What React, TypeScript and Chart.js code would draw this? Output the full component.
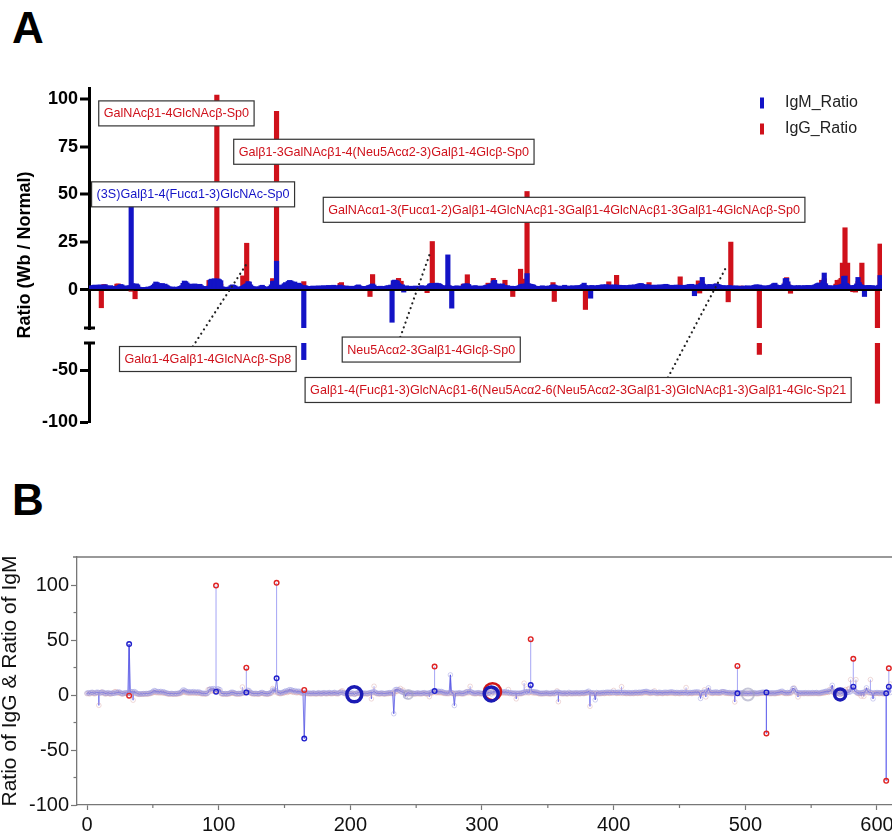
import React, { useEffect, useRef } from 'react';
import { Chart, registerables } from 'chart.js';

Chart.register(...registerables);

const FONT = "'Liberation Sans', Arial, Helvetica, sans-serif";
const RED = '#cf111b';
const BLUE = '#1313c6';

// ---------- DATA (glycan index 0..610) ----------
const igmRatio: number[] = [
  1.8, 2.1, 1.6, 2.3, 2.5, 2.0, 1.7, 2.4, 2.6, 2.2,
  1.9, 2.3, 2.7, 2.0, 1.5, 1.8, 2.2, 1.6, 1.4, 1.9,
  1.7, 1.5, 2.0, 2.4, 2.8, 2.5, 1.6, 1.3, 1.8, 2.1,
  1.9, 2.2, 46.0, 3.2, 3.0, 2.9, 3.1, 2.6, 1.4, 1.1,
  0.9, 1.2, 1.0, 1.3, 1.1, 1.5, 1.2, 1.6, 1.9, 2.4,
  3.1, 4.1, 3.8, 3.0, 3.2, 2.9, 3.3, 2.7, 3.0, 2.5,
  2.1, 1.6, 1.4, 1.2, 1.5, 1.3, 1.1, 1.4, 1.2, 1.6,
  1.8, 2.2, 3.4, 4.6, 4.3, 3.6, 2.8, 3.0, 2.6, 2.9,
  2.7, 3.1, 2.5, 2.8, 2.4, 2.9, 2.2, 1.8, 1.5, 1.7,
  1.4, 1.6, 2.0, 5.2, 5.6, 5.5, 5.8, 5.4, 5.6, 5.7,
  5.3, 4.8, 1.6, 1.3, 1.2, 1.4, 1.1, 1.3, 1.5, 2.2,
  2.6, 2.4, 2.0, 1.4, 1.2, 1.5, 1.3, 1.6, 1.9, 2.4,
  2.8, 3.2, 4.3, 4.1, 2.6, 1.9, 1.5, 1.3, 1.6, 1.4,
  1.2, 1.5, 2.1, 2.4, 1.8, 1.4, 1.3, 1.1, 1.5, 1.8,
  2.6, 4.4, 4.6, 4.2, 15.0, 2.5, 2.1, 1.8, 2.2, 2.6,
  3.2, 3.8, 3.4, 4.4, 4.9, 4.7, 4.2, 3.6, 4.1, 3.0,
  3.4, 3.5, 3.1, 2.4, 2.0, -40.0, 2.2, 1.9, 1.6, 1.8,
  1.5, 1.7, 2.0, 1.6, 1.4, 1.8, 2.1, 1.7, 1.5, 1.9,
  2.2, 1.8, 1.6, 2.0, 2.3, 1.9, 1.7, 2.1, 2.4, 2.0,
  1.6, 1.8, 2.2, 2.5, 2.1, 1.7, 1.5, 1.9, 2.0, 1.6,
  1.4, 1.7, 1.9, 0.6, 1.5, 1.8, 2.3, 2.6, 2.1, 1.7,
  1.5, 1.8, 1.6, 1.4, 1.9, 2.2, 2.4, 2.7, 3.1, 2.5,
  1.8, 1.6, 1.4, 1.7, 1.9, 1.5, 1.3, 1.6, 1.8, 2.0,
  2.2, 1.9, 2.5, -17.0, 4.8, 5.1, 4.9, 4.6, 3.5, 2.8,
  2.4, 2.6, -1.2, 1.8, 2.1, 1.7, 1.5, 1.9, 1.6, 1.4,
  1.7, 2.0, 1.8, 1.5, 1.6, 1.9, 2.2, 1.8, 1.5, 1.7,
  2.0, 2.2, 3.0, 3.3, 3.4, 3.1, 3.2, 3.5, 3.0, 3.3,
  2.9, 2.3, 1.9, 2.1, 1.8, 2.0, 18.3, 2.2, 1.9, -9.6,
  1.8, 1.6, 1.9, 2.1, 1.7, 1.5, 1.8, 2.0, 2.6, 3.1,
  3.0, 3.2, 2.8, 2.1, 1.8, 1.6, 1.9, 2.2, 2.0, 1.7,
  1.5, 1.8, 2.0, 1.7, 1.9, 2.2, 2.5, 1.0, 2.9, 3.0,
  3.2, 4.6, 5.0, 3.1, 2.9, 3.0, 2.7, 2.8, 3.1, 2.3,
  2.1, 1.9, 2.2, 1.8, 1.6, 1.9, 1.7, 1.5, 1.8, 1.6,
  1.9, 2.2, 2.6, 2.9, 3.0, 2.8, 3.1, 8.5, 3.2, 3.0,
  2.9, 2.7, 2.5, 2.0, 1.7, 1.5, 1.8, 1.6, 1.9, 2.1,
  1.8, 1.6, 1.5, 1.9, 2.0, 1.7, 2.3, 2.6, 2.5, 2.2,
  1.9, 1.6, 1.8, 2.0, 1.7, 1.5, 2.4, 1.9, 1.7, 1.8,
  2.0, 1.8, 2.1, 1.9, 1.7, 2.0, 2.2, 1.9, 2.1, 2.4,
  2.8, 3.5, 2.2, 2.0, 1.9, 2.1, -4.4, 2.3, 2.0, 1.8,
  1.9, 2.1, 2.3, 2.0, 2.4, 2.6, 2.5, 2.2, 2.7, 2.4,
  2.3, 2.5, 2.2, 2.4, 2.6, 2.3, 2.5, 2.1, 2.4, 2.2,
  2.0, 2.3, 2.1, 1.9, 2.2, 2.0, 2.3, 2.5, 2.1, 2.4,
  2.6, 2.3, 2.8, 3.0, 3.2, 3.3, 2.9, 2.4, 2.2, 2.5,
  2.7, 2.4, 2.2, 2.0, 2.3, 2.5, 2.2, 2.0, 2.3, 2.6,
  2.4, 2.2, 2.5, 2.7, 2.9, 2.6, 2.3, 2.1, 2.4, 2.2,
  2.0, 2.3, 2.5, 2.2, 2.4, 2.1, 1.9, 2.2, 2.4, 2.1,
  2.3, 2.5, 2.8, 2.6, 2.9, 2.4, -3.1, 2.2, 2.5, 2.7,
  2.3, 3.4, 6.5, 3.0, 2.4, 2.2, 2.5, 2.6, 2.8, 2.4,
  2.2, 2.5, 3.0, 3.1, 2.9, 2.6, 2.3, 2.1, 2.2, 2.0,
  1.8, 2.1, 2.0, 2.2, 1.9, 2.0, 1.7, 1.9, 2.1, 1.8,
  1.6, 1.9, 1.1, 1.8, 2.0, 1.7, 1.9, 2.1, 1.8, 1.6,
  1.9, 2.1, 2.3, 2.5, 2.6, 2.4, 2.5, 2.2, 2.0, 1.8,
  1.9, 2.1, 1.8, 2.0, 2.2, 2.4, 2.7, 3.2, 3.5, 2.6,
  2.2, 2.0, 2.3, 2.1, 2.4, 3.1, 5.9, 6.0, 4.2, 2.5,
  2.2, 2.0, 1.8, 2.1, 1.9, 2.0, 2.2, 1.8, 2.1, 1.9,
  2.0, 2.2, 1.9, 2.1, 2.3, 2.0, 1.8, 2.1, 2.4, 2.6,
  3.0, 3.3, 3.6, 3.4, 3.1, 4.8, 8.8, 3.2, 2.1, 1.9,
  2.2, 2.0, 0.6, 1.8, 2.1, 2.3, 2.0, 2.2, 2.5, 2.6,
  3.0, 7.0, 7.2, 3.4, 2.8, 2.2, 2.0, 1.9, 2.1, 2.3,
  2.4, 3.1, 6.5, 3.8, 2.7, 2.4, 2.2, -3.5, 2.1, 2.0,
  2.3, 2.1, 1.9, 2.2, 2.0, 1.8, 1.7, 1.9, 2.4, 7.5, 2.2,
];

const iggRatio: number[] = [
  1.2, 1.5, 1.0, 1.8, 2.2, 1.4, 1.1, 1.9, 2.0, -9.4,
  1.6, 2.8, 2.2, 1.3, 1.0, 1.2, 1.5, 1.1, 0.9, 1.3,
  1.6, 3.0, 3.1, 1.9, 2.0, 1.7, 1.1, 0.8, 1.2, 1.5,
  1.3, 1.4, -0.6, 1.8, 2.0, -4.7, 1.9, 1.5, 0.9, 0.7,
  0.6, 0.8, 0.7, 0.9, 0.8, 1.0, 0.9, 1.1, 1.3, 1.6,
  2.0, 2.6, 2.4, 2.1, 2.2, 1.9, 2.3, 1.8, 2.0, 1.6,
  1.4, 1.0, 0.9, 0.8, 1.0, 0.9, 0.7, 1.0, 0.8, 1.1,
  1.2, 1.5, 2.2, 3.0, 2.8, 2.3, 1.9, 2.0, 1.7, 1.9,
  1.8, 2.1, 1.6, 1.9, 1.5, 1.9, 1.4, 1.2, 1.0, 1.1,
  0.9, 1.1, 4.9, 5.0, 3.6, 3.8, 4.0, 3.5, 102.0, 3.9,
  3.4, 3.0, 1.1, 0.9, 0.8, 1.0, 0.7, 0.9, 1.0, 1.5,
  1.7, 1.6, 1.3, 1.0, 0.8, 1.0, 0.9, 1.1, 7.3, 1.6,
  1.9, 24.4, 2.8, 2.7, 1.7, 1.3, 1.0, 0.9, 1.1, 1.0,
  0.8, 1.0, 1.4, 1.6, 1.2, 1.0, 0.9, 0.7, 1.0, 1.2,
  1.7, 5.9, 3.0, 2.8, 93.5, 1.6, 1.4, 1.2, 1.5, 1.7,
  2.1, 2.5, 2.2, 2.9, 3.2, 3.1, 2.8, 2.4, 2.7, 2.0,
  2.2, 2.3, 2.0, 1.6, 1.3, 4.3, 1.5, 1.3, 1.1, 1.2,
  1.0, 1.1, 1.3, 1.1, 0.9, 1.2, 1.4, 1.1, 1.0, 1.3,
  1.5, 1.2, 1.1, 1.3, 1.5, 1.3, 1.1, 1.4, 1.6, 1.3,
  1.1, 1.2, 2.0, 3.4, 3.8, 2.2, 1.0, 1.3, 1.3, 1.1,
  0.9, 1.1, 1.3, 1.0, 1.0, 1.2, 1.5, 1.7, 1.4, 1.1,
  1.0, 1.2, 1.1, 0.9, 1.3, 1.5, -3.5, 1.8, 8.0, 1.7,
  1.2, 1.1, 0.9, 1.1, 1.3, 1.0, 0.9, 1.1, 1.2, 1.3,
  1.5, 1.3, 1.7, 1.2, 3.2, 3.4, 3.3, 4.2, 6.0, 3.5,
  4.5, 1.7, 1.0, 1.2, 1.4, 1.1, 1.0, 1.3, 1.1, 0.9,
  1.1, 1.3, 1.2, 1.0, 1.1, 1.3, 1.5, 1.2, 1.0, 1.1,
  -1.5, 1.5, 2.0, 2.2, 25.3, 2.1, 2.1, 2.3, 2.0, 2.2,
  1.9, 1.5, 1.3, 1.4, 1.2, 1.3, 2.5, 1.5, 1.3, 1.0,
  1.2, 1.1, 1.3, 1.4, 1.1, 1.0, 1.2, 1.3, 3.0, 2.1,
  2.0, 7.9, 1.9, 1.4, 1.2, 1.1, 1.3, 1.5, 1.3, 1.1,
  1.0, 1.2, 1.3, 1.1, 1.3, 1.5, 1.7, 3.5, 3.0, 2.0,
  2.1, 6.0, 3.3, 2.1, 1.9, 2.0, 1.8, 1.9, 2.0, 1.5,
  5.0, 1.3, 1.5, 1.2, 1.1, 1.3, -3.5, 1.0, 1.2, 1.1,
  1.3, 1.5, 10.8, 2.0, 5.6, 1.9, 2.1, 51.5, 2.1, 2.0,
  1.9, 1.8, 1.7, 1.3, 1.1, 1.0, 1.2, 1.1, 1.3, 1.4,
  1.2, 1.1, 1.0, 1.3, 1.3, 1.1, 1.5, 3.8, -6.1, 1.5,
  1.3, 1.1, 1.2, 1.3, 1.1, 1.0, 1.6, 1.3, 1.1, 1.2,
  1.3, 1.2, 1.4, 1.3, 1.1, 1.3, 1.5, 1.3, 1.4, 1.6,
  1.9, 2.3, -10.3, 1.3, 1.3, 1.4, 1.2, 1.5, 1.3, 1.2,
  1.3, 1.4, 1.5, 1.3, 1.6, 1.7, 1.7, 1.5, 1.8, 1.6,
  4.2, 1.7, 1.5, 1.6, 1.7, 1.5, 7.6, 1.4, 1.6, 1.5,
  1.3, 1.5, 1.4, 1.3, 1.5, 1.3, 1.5, 1.7, 1.4, 1.6,
  1.7, 1.5, 1.9, 2.0, 2.1, 2.2, 1.9, 1.6, 1.5, 1.7,
  1.8, 3.8, 1.5, 1.3, 1.5, 1.7, 1.5, 1.3, 1.5, 1.7,
  1.6, 1.5, 1.7, 1.8, 1.9, 1.7, 1.5, 1.4, 1.6, 1.5,
  1.3, 1.5, 1.7, 1.5, 1.6, 6.8, 1.3, 1.5, 1.6, 1.4,
  1.5, 1.7, 1.9, 1.7, 1.9, 1.6, 1.5, 1.5, 1.7, 4.7,
  -1.7, 2.3, 4.3, 2.0, 1.6, 1.5, 1.7, 1.7, 1.9, 1.6,
  1.5, 1.7, 2.0, 3.0, 1.9, 1.7, 1.5, 1.4, 1.5, 1.3,
  1.2, 1.4, -6.3, 1.5, 25.0, 1.3, 1.1, 1.3, 1.4, 1.2,
  1.1, 1.3, 2.0, 1.2, 1.3, 1.1, 1.3, 1.4, 1.2, 1.1,
  1.3, 1.4, 1.5, 1.7, 1.7, 1.6, -35.0, 1.5, 1.3, 1.2,
  1.3, 1.4, 1.2, 1.3, 1.5, 1.6, 1.8, 2.1, 2.3, 1.7,
  1.5, 1.3, 1.5, 1.4, 1.6, 2.0, 4.0, 6.4, 3.0, 1.7,
  -1.8, 1.3, 1.2, 1.4, 1.3, 1.3, 1.5, 1.2, 1.4, 1.3,
  1.3, 1.5, 1.3, 1.4, 1.5, 1.3, 1.2, 1.4, 1.6, 1.7,
  2.0, 2.2, 2.4, 2.3, 5.0, 3.2, 5.8, 2.1, 1.4, 1.3,
  1.5, 1.3, 1.0, 1.2, 1.4, 3.0, 5.0, 3.1, 5.2, 6.0,
  14.0, 4.8, 32.5, 4.6, 14.0, 1.5, 1.3, 1.3, -1.0, 1.5,
  -1.2, 2.1, 4.3, 2.5, 1.8, 14.0, 1.5, 1.5, 1.4, 1.3,
  1.5, 1.4, 1.3, 1.5, 1.3, 1.2, 1.1, -82.0, 1.6, 24.0, 10.0,
];

// Panel A axis ticks and ranges
const upperTicks = [0, 25, 50, 75, 100];
const lowerTicks = [-50, -100];
const upperRange = [-20, 105.7];
const lowerRange = [-100, -24];

// Panel B: highlighted glycans
const bHighlightIdx = [32, 98, 121, 144, 165, 264, 337, 494, 516, 582, 607, 609];
const bHighlightIgG = [-0.6, 99.5, 24.9, 102, 4.6, 25.9, 50.8, 26.5, -35, 33, -78, 24.3];
const bHighlightIgM = [46.3, 3, 2.4, 15.2, -39.6, 3.6, 9.1, 1.5, 2.4, 7.6, 1.5, 7.6];
// Panel B: ring markers (index, value, radius)
const bRingBlueIdx = [203, 307, 572];
const bRingBlueVal = [0.6, 1.0, 0.5];
const bRingBlueR = [7.5, 7, 5.5];
const bRingRedIdx = [308];
const bRingRedVal = [3.0];
const bRingRedR = [8.5];
const bRingFaintIdx = [244, 502];
const bRingFaintVal = [0.5, 0.5];
const bRingFaintR = [4.5, 6];
const xTicksB = [0, 100, 200, 300, 400, 500, 600];
const xMinorB = [50, 150, 250, 350, 450, 550];
const yTicksB = [-100, -50, 0, 50, 100];
const yMinorB = [-75, -25, 25, 75];
const xRangeB = [-7.6, 611.4];
const yRangeB = [-100, 125.5];

const glycanIndex: number[] = igmRatio.map((_, i) => i);

type Ann = { text: string; color: string; x: number; y: number; seg: 'yUp' | 'yLow'; leader?: { from: number; toX: number; toY: number } };
const annotationsA: Ann[] = [
  { text: 'GalNAcβ1-4GlcNAcβ-Sp0', color: RED, x: 7, y: 92.4, seg: 'yUp' },
  { text: 'Galβ1-3GalNAcβ1-4(Neu5Acα2-3)Galβ1-4Glcβ-Sp0', color: RED, x: 111, y: 72.3, seg: 'yUp' },
  { text: '(3S)Galβ1-4(Fucα1-3)GlcNAc-Sp0', color: BLUE, x: 1.5, y: 50, seg: 'yUp' },
  { text: 'GalNAcα1-3(Fucα1-2)Galβ1-4GlcNAcβ1-3Galβ1-4GlcNAcβ1-3Galβ1-4GlcNAcβ-Sp0', color: RED, x: 180, y: 41.9, seg: 'yUp' },
  { text: 'Galα1-4Galβ1-4GlcNAcβ-Sp8', color: RED, x: 23, y: -39.4, seg: 'yLow', leader: { from: 79.5, toX: 120.5, toY: 13.1 } },
  { text: 'Neu5Acα2-3Galβ1-4Glcβ-Sp0', color: RED, x: 194.6, y: -30.3, seg: 'yLow', leader: { from: 239.4, toX: 261.8, toY: 18.3 } },
  { text: 'Galβ1-4(Fucβ1-3)GlcNAcβ1-6(Neu5Acα2-6(Neu5Acα2-3Galβ1-3)GlcNAcβ1-3)Galβ1-4Glc-Sp21', color: RED, x: 166, y: -69.2, seg: 'yLow', leader: { from: 445.6, toX: 491, toY: 12.6 } },
];

const panelAPlugin = {
  id: 'panelAExtras',
  afterDatasetsDraw(chart: any) {
    const { ctx, chartArea, scales } = chart;
    const xs = scales.x, yUp = scales.yUp, yLow = scales.yLow;
    ctx.save();
    // axis break caps
    ctx.strokeStyle = '#000';
    ctx.lineWidth = 3;
    const ax = chartArea.left;
    [yUp.bottom, yLow.top].forEach((py: number) => {
      ctx.beginPath();
      ctx.moveTo(ax - 5, py);
      ctx.lineTo(ax + 6, py);
      ctx.stroke();
    });
    // y title
    ctx.save();
    ctx.translate(25, (chartArea.top + chartArea.bottom) / 2);
    ctx.rotate(-Math.PI / 2);
    ctx.font = `bold 18px ${FONT}`;
    ctx.fillStyle = '#000';
    ctx.textAlign = 'center';
    ctx.textBaseline = 'middle';
    ctx.fillText('Ratio (Wb / Normal)', 0, 0);
    ctx.restore();
    // legend
    ctx.font = `16px ${FONT}`;
    ctx.textBaseline = 'middle';
    ctx.textAlign = 'left';
    [0, 1].forEach((di, k) => {
      const ds = chart.data.datasets[di];
      const ly = chartArea.top + 15 + k * 26;
      ctx.fillStyle = ds.backgroundColor;
      ctx.fillRect(chartArea.right - 122, ly - 5.5, 4, 11);
      ctx.fillStyle = '#222';
      ctx.fillText(ds.label, chartArea.right - 97, ly);
    });
    // annotations
    ctx.font = `12.6px ${FONT}`;
    const h = 25;
    annotationsA.forEach((a) => {
      const ys = a.seg === 'yLow' ? yLow : yUp;
      const left = xs.getPixelForValue(a.x);
      const cy = ys.getPixelForValue(a.y);
      const w = ctx.measureText(a.text).width + 10;
      if (a.leader) {
        ctx.save();
        ctx.strokeStyle = '#222';
        ctx.lineWidth = 2.2;
        ctx.lineCap = 'round';
        ctx.setLineDash([0.1, 5]);
        ctx.beginPath();
        ctx.moveTo(xs.getPixelForValue(a.leader.from), cy - h / 2);
        ctx.lineTo(xs.getPixelForValue(a.leader.toX), yUp.getPixelForValue(a.leader.toY));
        ctx.stroke();
        ctx.restore();
      }
      ctx.fillStyle = '#fff';
      ctx.fillRect(left, cy - h / 2, w, h);
      ctx.strokeStyle = '#333';
      ctx.lineWidth = 1.2;
      ctx.strokeRect(left, cy - h / 2, w, h);
      ctx.fillStyle = a.color;
      ctx.textBaseline = 'middle';
      ctx.fillText(a.text, left + 5, cy + 0.5);
    });
    ctx.restore();
  },
};

const panelBPlugin = {
  id: 'panelBExtras',
  afterDraw(chart: any) {
    const { ctx, chartArea, scales } = chart;
    const xs = scales.x, ys = scales.y;
    ctx.save();
    ctx.strokeStyle = '#777';
    ctx.lineWidth = 1.3;
    ctx.beginPath();
    ctx.moveTo(chartArea.left - 4, chartArea.top);
    ctx.lineTo(chartArea.right, chartArea.top);
    ctx.stroke();
    ctx.lineWidth = 1.2;
    xMinorB.forEach((v) => {
      const px = xs.getPixelForValue(v);
      ctx.beginPath();
      ctx.moveTo(px, chartArea.bottom);
      ctx.lineTo(px, chartArea.bottom + 3);
      ctx.stroke();
    });
    yMinorB.forEach((v) => {
      const py = ys.getPixelForValue(v);
      ctx.beginPath();
      ctx.moveTo(chartArea.left - 3.5, py);
      ctx.lineTo(chartArea.left, py);
      ctx.stroke();
    });
    ctx.restore();
  },
};

function PanelA() {
  const ref = useRef<HTMLCanvasElement>(null);
  useEffect(() => {
    const canvas = ref.current as HTMLCanvasElement;
    const upMin = upperRange[0];
    const lowTop = lowerRange[1];
    const barCommon = { grouped: false, barThickness: 4.5, borderWidth: 0 };
    const tickFont = { family: FONT, size: 18, weight: 'bold' as const };
    const chart = new Chart(canvas, {
      type: 'bar',
      data: {
        labels: glycanIndex,
        datasets: [
          { label: 'IgM_Ratio', data: igmRatio.map((v) => Math.max(v, upMin)), backgroundColor: BLUE, yAxisID: 'yUp', order: 0, ...barCommon },
          { label: 'IgG_Ratio', data: iggRatio.map((v) => Math.max(v, upMin)), backgroundColor: RED, yAxisID: 'yUp', order: 1, ...barCommon },
          { label: 'IgM_low', data: igmRatio.map((v) => (v < lowTop ? [lowTop, v] : null)) as any, backgroundColor: BLUE, yAxisID: 'yLow', order: 0, ...barCommon },
          { label: 'IgG_low', data: iggRatio.map((v) => (v < lowTop ? [lowTop, v] : null)) as any, backgroundColor: RED, yAxisID: 'yLow', order: 1, ...barCommon },
        ],
      },
      options: {
        responsive: false,
        animation: false,
        devicePixelRatio: 1,
        events: [],
        layout: { autoPadding: false, padding: { top: 28, bottom: 18, right: 10, left: 0 } },
        plugins: { legend: { display: false }, tooltip: { enabled: false } },
        scales: {
          x: { type: 'category', display: false, offset: true },
          yUp: {
            type: 'linear', position: 'left', stack: 'a', stackWeight: 240, weight: 3,
            min: upperRange[0], max: upperRange[1],
            afterBuildTicks: (s: any) => { s.ticks = upperTicks.map((v) => ({ value: v })); },
            afterFit: (s: any) => { s.width = 89; },
            ticks: { font: tickFont, color: '#000', padding: 2, autoSkip: false },
            grid: {
              color: (c: any) => (c.tick && c.tick.value === 0 ? '#000' : 'rgba(0,0,0,0)'),
              lineWidth: (c: any) => (c.tick && c.tick.value === 0 ? 3 : 0),
              tickColor: '#000', tickWidth: 3, tickLength: 9,
            },
            border: { color: '#000', width: 3 },
          },
          yGap: {
            type: 'linear', position: 'left', stack: 'a', stackWeight: 15, weight: 2,
            min: lowerRange[1], max: upperRange[0],
            afterBuildTicks: (s: any) => { s.ticks = []; },
            afterFit: (s: any) => { s.width = 89; },
            ticks: { display: false },
            grid: { display: false },
            border: { display: false },
          },
          yLow: {
            type: 'linear', position: 'left', stack: 'a', stackWeight: 79, weight: 1,
            min: lowerRange[0], max: lowerRange[1],
            afterBuildTicks: (s: any) => { s.ticks = lowerTicks.map((v) => ({ value: v })); },
            afterFit: (s: any) => { s.width = 89; },
            ticks: { font: tickFont, color: '#000', padding: 2, autoSkip: false },
            grid: { drawOnChartArea: false, tickColor: '#000', tickWidth: 3, tickLength: 9 },
            border: { color: '#000', width: 3 },
          },
        },
      } as any,
      plugins: [panelAPlugin],
    });
    return () => chart.destroy();
  }, []);
  return <canvas ref={ref} width={892} height={380} style={{ position: 'absolute', left: 0, top: 60, width: 892, height: 380 }} />;
}

function PanelB() {
  const ref = useRef<HTMLCanvasElement>(null);
  useEffect(() => {
    const canvas = ref.current as HTMLCanvasElement;
    const bIgG = iggRatio.slice();
    const bIgM = igmRatio.slice();
    bHighlightIdx.forEach((idx, k) => { bIgG[idx] = bHighlightIgG[k]; bIgM[idx] = bHighlightIgM[k]; });
    const stems: any[] = [];
    glycanIndex.forEach((i) => { stems.push({ x: i, y: bIgM[i] }, { x: i, y: bIgG[i] }, { x: i, y: null }); });
    const tickFont = { family: FONT, size: 20 };
    const chart = new Chart(canvas, {
      type: 'scatter',
      data: {
        datasets: [
          { type: 'bubble', data: bRingBlueIdx.map((x, k) => ({ x, y: bRingBlueVal[k], r: bRingBlueR[k] })), borderColor: '#1a1ab4', backgroundColor: 'rgba(0,0,0,0)', borderWidth: 3.5, order: 0 },
          { type: 'bubble', data: bRingRedIdx.map((x, k) => ({ x, y: bRingRedVal[k], r: bRingRedR[k] })), borderColor: '#d01818', backgroundColor: 'rgba(0,0,0,0)', borderWidth: 2.5, order: 0.5 },
          { type: 'bubble', data: bRingFaintIdx.map((x, k) => ({ x, y: bRingFaintVal[k], r: bRingFaintR[k] })), borderColor: 'rgba(160,160,190,0.6)', backgroundColor: 'rgba(0,0,0,0)', borderWidth: 2, order: 1 },
          { type: 'scatter', data: bHighlightIdx.map((x, k) => ({ x, y: bHighlightIgG[k] })), pointRadius: 2.3, pointBorderWidth: 1.4, pointBorderColor: '#e02424', pointBackgroundColor: 'rgba(255,255,255,0)', order: 1 },
          { type: 'scatter', data: bHighlightIdx.map((x, k) => ({ x, y: bHighlightIgM[k] })), pointRadius: 2.3, pointBorderWidth: 1.4, pointBorderColor: '#2020cc', pointBackgroundColor: 'rgba(255,255,255,0)', order: 1 },
          { type: 'scatter', data: glycanIndex.map((i) => ({ x: i, y: bIgG[i] })), pointRadius: 2.3, pointBorderWidth: 1, pointBorderColor: 'rgba(215,160,160,0.4)', pointBackgroundColor: 'rgba(255,255,255,0)', order: 3 },
          { type: 'line', showLine: true, data: glycanIndex.map((i) => ({ x: i, y: bIgM[i] })), borderColor: 'rgba(80,80,225,0.7)', borderWidth: 1, pointRadius: 2.3, pointBorderWidth: 1, pointBorderColor: 'rgba(150,150,225,0.45)', pointBackgroundColor: 'rgba(255,255,255,0)', order: 2 },
          { type: 'line', showLine: true, spanGaps: false, data: stems, borderColor: 'rgba(90,90,235,0.55)', borderWidth: 1, pointRadius: 0, order: 5 },
        ] as any,
      },
      options: {
        responsive: false,
        animation: false,
        devicePixelRatio: 1,
        events: [],
        layout: { autoPadding: false, padding: { top: 17, bottom: 0, right: 0, left: 0 } },
        plugins: { legend: { display: false }, tooltip: { enabled: false } },
        scales: {
          x: {
            type: 'linear', position: 'bottom', min: xRangeB[0], max: xRangeB[1],
            afterBuildTicks: (s: any) => { s.ticks = xTicksB.map((v) => ({ value: v })); },
            afterFit: (s: any) => { s.height = 29; s.paddingLeft = 0; s.paddingRight = 0; },
            ticks: { font: tickFont, color: '#111', padding: 3, maxRotation: 0, autoSkip: false },
            grid: { drawOnChartArea: false, tickLength: 5, tickColor: '#777', tickWidth: 1.2 },
            border: { color: '#777', width: 1.3 },
          },
          y: {
            type: 'linear', position: 'left', min: yRangeB[0], max: yRangeB[1],
            afterBuildTicks: (s: any) => { s.ticks = yTicksB.map((v) => ({ value: v })); },
            afterFit: (s: any) => { s.width = 77; s.paddingTop = 0; s.paddingBottom = 0; },
            ticks: { font: tickFont, color: '#111', padding: 2, autoSkip: false },
            grid: { drawOnChartArea: false, tickLength: 6, tickColor: '#777', tickWidth: 1.2 },
            border: { color: '#777', width: 1.3 },
            title: { display: true, text: 'Ratio of IgG & Ratio of IgM', color: '#111', font: { family: FONT, size: 21, lineHeight: 1 }, padding: 0 },
          },
        },
      } as any,
      plugins: [panelBPlugin],
    });
    return () => chart.destroy();
  }, []);
  return <canvas ref={ref} width={892} height={294} style={{ position: 'absolute', left: 0, top: 540, width: 892, height: 294 }} />;
}

export default function App() {
  const letter: React.CSSProperties = { position: 'absolute', left: 12, fontFamily: FONT, fontWeight: 'bold', fontSize: 44, lineHeight: 1, color: '#000' };
  return (
    <div style={{ position: 'absolute', left: 0, top: 0, width: 892, height: 834, overflow: 'hidden', background: '#fff' }}>
      <div style={{ ...letter, top: 6 }}>A</div>
      <div style={{ ...letter, top: 478 }}>B</div>
      <PanelA />
      <PanelB />
    </div>
  );
}
